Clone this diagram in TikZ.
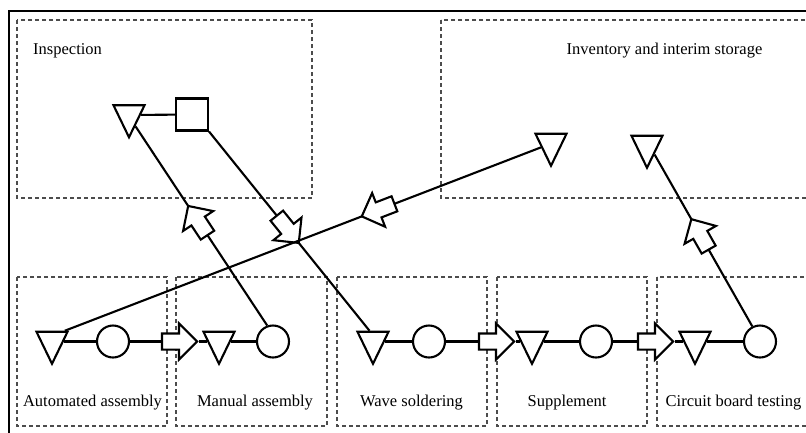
\documentclass[tikz,border=0pt]{standalone}
\usepackage{fontspec}
\setmainfont{Liberation Serif}
\usetikzlibrary{shapes.geometric,shapes.arrows,calc}
\begin{document}
\begin{tikzpicture}[x=1pt,y=-1pt,
  lbl/.style={font=\fontsize{16.5}{19}\selectfont, inner sep=0pt},
  zone/.style={draw=black!70, dash pattern=on 4pt off 3pt, line width=1.2pt},
  frame/.style={draw, line width=2.8pt},
  link/.style={draw, line width=2.1pt},
  tri/.style={isosceles triangle, isosceles triangle stretches, shape border rotate=270,
    minimum width=31pt, minimum height=32pt, inner sep=0pt, draw, line width=2.1pt, fill=white},
  circ/.style={circle, draw, line width=2.1pt, minimum size=32pt, inner sep=0pt, fill=white},
  sqr/.style={rectangle, draw, line width=2.1pt, minimum size=32pt, inner sep=0pt, fill=white},
  barrow/.style={single arrow, draw, line width=2.1pt, fill=white, minimum height=35pt,
    single arrow head extend=10pt, single arrow tip angle=90, inner sep=7pt},
  onlink/.style={barrow, sloped, allow upside down}]
\useasboundingbox (0,0) rectangle (806,432);
\clip (0,0) rectangle (806,432);

% outer frame (continues past the right and bottom edges)
\draw[frame] (9,11) rectangle (830,450);

% dashed zones
\draw[zone] (17,20) rectangle (312,198);
\draw[zone] (441,20) rectangle (830,198);
\draw[zone] (17,277) rectangle (167,426);
\draw[zone] (176,277) rectangle (327,426);
\draw[zone] (337,277) rectangle (487,426);
\draw[zone] (497,277) rectangle (647,426);
\draw[zone] (657,277) rectangle (830,426);

% zone titles
\node[lbl, anchor=west] (tInsp) at (33,51) {Inspection};
\node[lbl] (tInv) at (664.5,51) {Inventory and interim storage};
\node[lbl] (tAuto) at (92.5,403) {Automated assembly};
\node[lbl] (tMan) at (255,403) {Manual assembly};
\node[lbl] (tWave) at (411.5,403) {Wave soldering};
\node[lbl] (tSup) at (567,403) {Supplement};
\node[lbl] (tTest) at (733.5,403) {Circuit board testing};

% process row
\node[tri]  (t1) at (52,341.5) {};
\node[circ] (c1) at (113,341.5) {};
\node[barrow] (a1) at (175.5,341.5) {};
\node[tri]  (t2) at (219,341.5) {};
\node[circ] (c2) at (273,341.5) {};
\node[tri]  (t3) at (373,341.5) {};
\node[circ] (c3) at (429,341.5) {};
\node[barrow] (a2) at (492.5,341.5) {};
\node[tri]  (t4) at (532,341.5) {};
\node[circ] (c4) at (596,341.5) {};
\node[barrow] (a3) at (651.5,341.5) {};
\node[tri]  (t5) at (695,341.5) {};
\node[circ] (c5) at (760,341.5) {};

% inspection and storage
\node[tri]  (ti) at (129,115) {};
\node[sqr]  (sq) at (192,114.5) {};
\node[tri]  (tA) at (551,143.5) {};
\node[tri]  (tB) at (647,145.5) {};

% row connectors
\draw[link] (t1) -- (c1);
\draw[link] (c1) -- (a1.tail);
\draw[link] (a1.tip) -- (t2);
\draw[link] (t2) -- (c2);
\draw[link] (t3) -- (c3);
\draw[link] (c3) -- (a2.tail);
\draw[link] (a2.tip) -- (t4);
\draw[link] (t4) -- (c4);
\draw[link] (c4) -- (a3.tail);
\draw[link] (a3.tip) -- (t5);
\draw[link] (t5) -- (c5);

% transfers between zones
\draw[link] (sq) -- (ti);
\draw[link] (c2.110) -- node[onlink, pos=0.51] (a4) {} (ti.-60);
\draw[link] (sq.south east) -- node[onlink, pos=0.475] (a5) {} (t3.108);
\draw[link] (tA) -- node[onlink, pos=0.334] (a6) {} (t1.40);
\draw[link] (c5.117) -- node[onlink, pos=0.515] (a7) {} (tB.-50);
\end{tikzpicture}
\end{document}
